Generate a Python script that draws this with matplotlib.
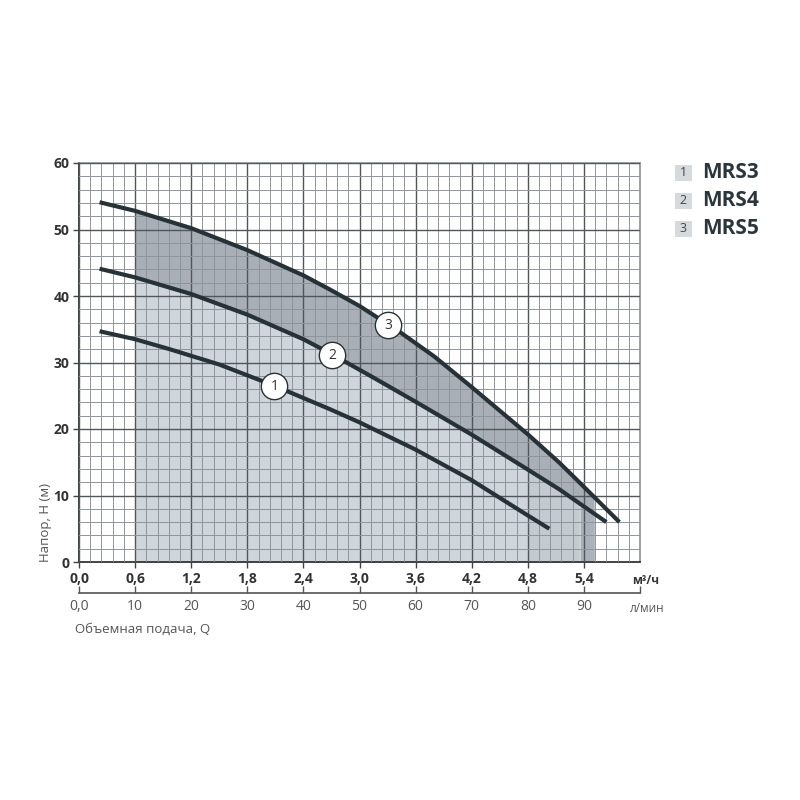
import numpy as np
import matplotlib
matplotlib.use("Agg")
import matplotlib.pyplot as plt
from matplotlib.patches import Rectangle

plt.rcParams['font.family'] = ['Open Sans', 'DejaVu Sans']

# ---- data ----
q1 = [0.22, 0.6, 0.97, 1.5, 2.09, 2.68, 3.0, 3.6, 4.2, 4.8, 5.03]
h1 = [34.7, 33.5, 32.0, 29.7, 26.5, 23.0, 21.0, 16.9, 12.3, 7.0, 5.0]
q2 = [0.22, 0.6, 1.2, 1.8, 2.4, 2.71, 3.14, 3.6, 4.2, 4.8, 5.14, 5.64]
h2 = [44.1, 42.8, 40.3, 37.2, 33.5, 31.2, 27.8, 24.1, 19.15, 13.9, 10.9, 6.0]
q3 = [0.22, 0.6, 1.2, 1.8, 2.4, 2.68, 3.0, 3.43, 3.8, 4.2, 4.8, 5.14, 5.35, 5.78]
h3 = [54.1, 52.8, 50.2, 46.9, 43.1, 41.0, 38.5, 34.6, 30.9, 26.3, 19.2, 14.9, 12.0, 6.0]
models = ["MRS3", "MRS4", "MRS5"]
label_pos = [(2.09, 26.4), (2.71, 31.1), (3.31, 35.6)]
xticks_m3h = [0.0, 0.6, 1.2, 1.8, 2.4, 3.0, 3.6, 4.2, 4.8, 5.4]
xticklabels_m3h = ["0,0", "0,6", "1,2", "1,8", "2,4", "3,0", "3,6", "4,2", "4,8", "5,4"]
yticks = [0, 10, 20, 30, 40, 50, 60]
lpm_ticks = [0, 10, 20, 30, 40, 50, 60, 70, 80, 90]
lpm_labels = ["0,0", "10", "20", "30", "40", "50", "60", "70", "80", "90"]
fill_start, fill_end = 0.6, 5.51
band1, band2 = 4.79, 5.36

DARK = '#263238'
fig = plt.figure(figsize=(8, 8), dpi=100)
ax = fig.add_axes([79/800, 1-562/800, 561/800, 399/800])
ax.set_xlim(0, 6.0)
ax.set_ylim(0, 60)

# ---- fills ----
xx = np.linspace(fill_start, fill_end, 300)
c2 = np.interp(xx, q2, h2)
c3 = np.interp(xx, q3, h3)
ax.fill_between(xx, c2, c3, color='#a8afb6', lw=0, zorder=1)
ax.fill_between(xx, 0, c2, color='#cfd6db', lw=0, zorder=1)
m = (xx >= band1) & (xx <= band2)
ax.fill_between(xx[m], 0, c2[m], color='#c3cad0', lw=0, zorder=1.1)
m = (xx >= band2)
ax.fill_between(xx[m], 0, c2[m], color='#aab1b9', lw=0, zorder=1.1)

# ---- grid ----
ax.set_xticks(np.arange(0, 6.01, 0.6))
ax.set_xticks(np.arange(0, 6.01, 0.12), minor=True)
ax.set_yticks(yticks)
ax.set_yticks(np.arange(0, 61, 2), minor=True)
ax.grid(True, which='minor', color='#8f959a', lw=0.7)
ax.grid(True, which='major', color='#50565a', lw=1.0)
ax.set_axisbelow(False)

# ---- curves ----
for q, h in [(q1, h1), (q2, h2), (q3, h3)]:
    ax.plot(q, h, color=DARK, lw=3.0, solid_capstyle='butt', solid_joinstyle='round', zorder=3)

for i, (x, y) in enumerate(label_pos):
    ax.scatter([x], [y], s=360, facecolor='white', edgecolor=DARK, lw=1.0, zorder=4)
    ax.text(x, y, str(i+1), ha='center', va='center', fontsize=10, color='#333', zorder=5)

# ---- axes styling ----
ax.set_xticks(xticks_m3h)
ax.set_xticklabels(xticklabels_m3h, fontsize=10, fontweight='bold', color='#333')
ax.set_yticklabels([str(v) for v in yticks], fontsize=10, fontweight='bold', color='#333')
ax.tick_params(axis='both', which='major', length=4, width=1, color='#444', pad=3)
ax.tick_params(axis='both', which='minor', length=0)
for s in ['left', 'bottom']:
    ax.spines[s].set_color('#333')
    ax.spines[s].set_linewidth(1.3)
for s in ['top', 'right']:
    ax.spines[s].set_color('#8a9095')
    ax.spines[s].set_linewidth(1.2)

# secondary l/min axis
sec = ax.secondary_xaxis(-31/399, functions=(lambda q: q*1000/60, lambda l: l*60/1000))
sec.set_xticks(lpm_ticks + [100])
sec.set_xticklabels(lpm_labels + [""], fontsize=10, color='#555')
sec.tick_params(direction='in', length=5, width=1, color='#555', pad=4)
sec.spines['bottom'].set_color('#555')
sec.spines['bottom'].set_linewidth(1.2)

fig.text(632/800, 1-580/800, "м³/ч", fontsize=8.5, fontweight='bold', color='#333', ha='left', va='center')
fig.text(630/800, 1-608/800, "л/мин", fontsize=8.5, color='#555', ha='left', va='center')
fig.text(75/800, 1-629/800, "Объемная подача, Q", fontsize=9.5, color='#555', ha='left', va='center')
fig.text(45/800, 1-562/800, "Напор, H (м)", fontsize=9.5, color='#555', rotation=90, ha='center', va='bottom')

# legend
for i, name in enumerate(models):
    yc = 1 - (173 + 28*i)/800
    fig.patches.append(Rectangle((675/800, yc - 8/800), 17/800, 16/800, transform=fig.transFigure,
                                 facecolor='#d7dadd', edgecolor='none'))
    fig.text(683.5/800, yc, str(i+1), fontsize=9, color='#444', ha='center', va='center')
    fig.text(702/800, yc, name, fontsize=15, fontweight='bold', color='#2b363c', ha='left', va='center')

fig.savefig("out.png", dpi=100)
